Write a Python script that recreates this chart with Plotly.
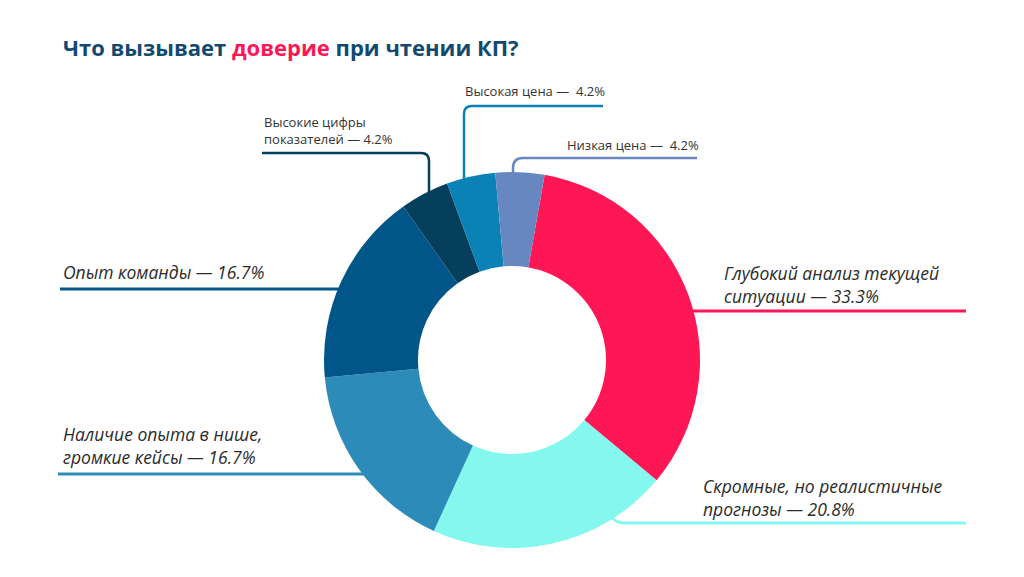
import plotly.graph_objects as go

# ---- data ----
categories = [
    "Глубокий анализ текущей ситуации",
    "Скромные, но реалистичные прогнозы",
    "Наличие опыта в нише, громкие кейсы",
    "Опыт команды",
    "Высокие цифры показателей",
    "Высокая цена",
    "Низкая цена",
]
values = [33.3, 20.8, 16.7, 16.7, 4.2, 4.2, 4.2]
colors = ["#FF1654", "#84F8EF", "#2D8BBA", "#005689", "#053F5C", "#0A82B6", "#6787C0"]
label_texts = [
    "Глубокий анализ текущей<br>ситуации — 33.3%",
    "Скромные, но реалистичные<br>прогнозы — 20.8%",
    "Наличие опыта в нише,<br>громкие кейсы — 16.7%",
    "Опыт команды — 16.7%",
    "Высокие цифры<br>показателей — 4.2%",
    "Высокая цена —  4.2%",
    "Низкая цена —  4.2%",
]

W, H = 1024, 577
cx, cy, R = 512, 360, 188

fig = go.Figure()
fig.add_trace(go.Pie(
    labels=categories, values=values, hole=0.5, sort=False,
    direction="clockwise", rotation=10,
    marker=dict(colors=colors, line=dict(width=0)),
    textinfo="none", hoverinfo="label+percent", showlegend=False,
    domain=dict(x=[(cx - R) / W, (cx + R) / W], y=[(H - cy - R) / H, (H - cy + R) / H]),
))

# label layout (pixel positions)
big_font = dict(family="Open Sans", size=17.5, color="#2B2B2B")
small_font = dict(family="Open Sans", size=13, color="#333333")
label_pos = [
    (722, 284, big_font, "left"),
    (701, 497, big_font, "left"),
    (61, 445, big_font, "left"),
    (61, 272, big_font, "left"),
    (262, 130, small_font, "left"),
    (463, 91, small_font, "left"),
    (565, 145, small_font, "left"),
]
leader_paths = [
    "M 690 311 L 966 311",
    "M 608 512 Q 613 523 624 523 L 966 523",
    "M 58 474 L 370 474",
    "M 60 289 L 345 289",
    "M 262 153 L 421 153 Q 429 153 429 161 L 429 200",
    "M 464 190 L 464 114 Q 464 106 472 106 L 603 106",
    "M 513 185 L 513 168 Q 513 158 523 158 L 697 158",
]
line_widths = [3, 3, 3, 3, 2.5, 2.5, 2.5]

annotations = []
shapes = []
for i, txt in enumerate(label_texts):
    x, y, f, anchor = label_pos[i]
    italic = f is big_font
    annotations.append(dict(
        x=x, y=y, xref="x", yref="y", xanchor=anchor, yanchor="middle",
        text=(f"<i>{txt}</i>" if italic else txt), showarrow=False, font=f, align="left",
    ))
    shapes.append(dict(type="path", path=leader_paths[i], xref="x", yref="y",
                       line=dict(color=colors[i], width=line_widths[i]), layer="below"))

annotations.append(dict(
    x=61, y=47, xref="x", yref="y", xanchor="left", yanchor="middle", showarrow=False,
    text="<b>Что вызывает <span style='color:#FF1654'>доверие</span> при чтении КП?</b>",
    font=dict(family="Open Sans", size=22, color="#124A6F"),
))

fig.update_layout(
    width=W, height=H, margin=dict(l=0, r=0, t=0, b=0),
    paper_bgcolor="white", plot_bgcolor="white",
    xaxis=dict(range=[0, W], visible=False, fixedrange=True),
    yaxis=dict(range=[H, 0], visible=False, fixedrange=True),
    annotations=annotations, shapes=shapes,
)
fig.write_html("out.html")
